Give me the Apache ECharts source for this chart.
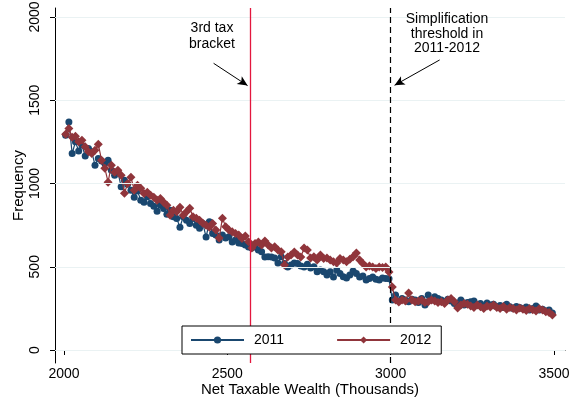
<!DOCTYPE html>
<html><head><meta charset="utf-8">
<script src="https://cdn.jsdelivr.net/npm/echarts@6/dist/echarts.min.js"></script>
<style>html,body{margin:0;padding:0;background:#fff}#c{width:583px;height:400px}</style>
</head><body><div id="c"></div>
<script>
// Bin midpoints (thousands)
var binStart = 2005, binStep = 10, binCount = 150;
var xTicks = [2000, 2500, 3000, 3500];
var yTicks = [0, 500, 1000, 1500, 2000];
var taxBracket = 2570;
var threshold = 3000;
var s2011 = [1290,1370,1180,1250,1195,1230,1165,1210,1190,1110,
1150,1135,1120,1140,1080,1050,1070,980,1020,995,
960,918,955,900,888,920,880,864,834,870,
850,816,840,800,790,738,800,780,760,790,
750,732,760,678,770,700,690,660,690,672,
680,648,660,642,640,630,618,612,620,600,
590,558,560,558,552,522,560,520,498,510,
522,520,505,498,515,492,500,470,480,470,
450,470,438,480,460,440,432,450,475,460,
438,445,420,430,438,425,420,432,430,428,
300,330,295,310,300,290,305,300,285,310,
270,330,300,320,310,300,290,305,295,280,
282,300,270,285,290,294,270,280,265,282,
270,275,260,268,255,275,260,250,262,255,
248,258,240,250,265,240,245,235,240,222];
var s2012 = [1296,1330,1278,1284,1250,1260,1220,1190,1180,1200,
1236,1140,1092,1008,1110,1068,1080,1050,942,1000,
1038,960,990,972,940,948,930,918,900,910,
888,870,810,840,830,858,810,830,852,800,
792,780,762,750,738,760,720,672,792,740,
720,710,700,690,670,684,650,612,640,648,
630,654,630,612,620,600,590,510,558,570,
588,570,558,612,600,552,560,540,570,550,
552,540,530,522,550,540,530,545,560,582,
540,520,498,505,498,490,498,495,498,468,
378,300,288,300,295,342,300,290,295,300,
285,290,300,295,285,290,280,300,310,290,
252,270,280,275,265,255,270,260,250,265,
258,270,255,250,262,245,255,250,240,252,
245,238,250,242,235,248,240,230,225,210];

function pts(arr){ return arr.map(function(v,i){ return [binStart + binStep*i, v]; }); }
function plain(v){ return String(v); }

var c1 = '#1a476f', c2 = '#90353b';
var font = 'Liberation Sans, Arial, sans-serif';
var chart = echarts.init(document.getElementById('c'));
chart.setOption({
  animation: false,
  backgroundColor: '#fff',
  grid: {left: 55, right: 18, top: 8, bottom: 37, containLabel: false, outerBoundsMode: 'none'},
  xAxis: {
    type: 'value', min: 1972.5, max: 3533.7,
    name: 'Net Taxable Wealth (Thousands)', nameLocation: 'middle', nameGap: 19, nameMoveOverlap: false,
    nameTextStyle: {fontFamily: font, fontSize: 15, color: '#000'},
    axisLine: {show: true, lineStyle: {color: '#000', width: 1}},
    axisTick: {show: true, length: 5, customValues: xTicks, lineStyle: {color: '#000'}},
    axisLabel: {customValues: xTicks, formatter: plain, fontFamily: font, fontSize: 14, color: '#000', margin: 4},
    splitLine: {show: false}
  },
  yAxis: {
    type: 'value', min: -78, max: 2054,
    name: 'Frequency', nameLocation: 'middle', nameGap: 29, nameMoveOverlap: false,
    nameTextStyle: {fontFamily: font, fontSize: 15, color: '#000'},
    axisLine: {show: true, lineStyle: {color: '#000', width: 1}},
    axisTick: {show: true, length: 5, customValues: yTicks, lineStyle: {color: '#000'}},
    axisLabel: {customValues: yTicks, formatter: plain, rotate: 90, fontFamily: font, fontSize: 14, color: '#000', margin: 13},
    splitLine: {show: false}
  },
  legend: {
    left: 182, top: 326, orient: 'horizontal', z: 20,
    padding: [7, 10, 7, 8], itemGap: 52, itemWidth: 53, itemHeight: 9,
    borderColor: '#000', borderWidth: 1, backgroundColor: '#fff',
    textStyle: {fontFamily: font, fontSize: 14, color: '#000', padding: [0, 0, 0, 5]},
    data: ['2011', '2012']
  },
  series: [
    {
      type: 'line', name: 'grid', silent: true, data: [], z: 1,
      markLine: {silent: true, symbol: 'none', label: {show: false},
        lineStyle: {color: '#eaf2f3', width: 1, type: 'solid'},
        data: yTicks.map(function(v){ return {yAxis: v}; })}
    },
    {
      type: 'line', name: '2011', data: pts(s2011), z: 3,
      symbol: 'circle', symbolSize: 7,
      itemStyle: {color: c1}, lineStyle: {color: c1, width: 1.2}
    },
    {
      type: 'line', name: '2012', data: pts(s2012), z: 4,
      symbol: 'diamond', symbolSize: 9,
      itemStyle: {color: c2}, lineStyle: {color: c2, width: 1.2},
      markLine: {silent: true, symbol: 'none', label: {show: false},
        data: [
          {xAxis: taxBracket, lineStyle: {color: '#e3173e', width: 1.3, type: 'solid'}},
          {xAxis: threshold, lineStyle: {color: '#000', width: 1.2, type: [6, 4]}},
          [{coord: [2458, 1722], symbol: 'none'}, {coord: [2562, 1588], symbol: 'arrow'}],
          [{coord: [3150, 1742], symbol: 'none'}, {coord: [3012, 1590], symbol: 'arrow'}]
        ].map(function(d){
          if (Array.isArray(d)) { d[0].lineStyle = {color: '#000', width: 1, type: 'solid'}; d[1].symbolSize = [7, 10]; }
          return d;
        })
      }
    }
  ],
  graphic: [
    {type: 'text', x: 212, y: 20, z: 100, style: {text: '3rd tax\nbracket', fontFamily: font, fontSize: 14, fill: '#000', align: 'center', verticalAlign: 'top', lineHeight: 16}},
    {type: 'text', x: 447, y: 12, z: 100, style: {text: 'Simplification\nthreshold in\n2011-2012', fontFamily: font, fontSize: 14, fill: '#000', align: 'center', verticalAlign: 'top', lineHeight: 14.5}}
  ]
});
</script></body></html>
